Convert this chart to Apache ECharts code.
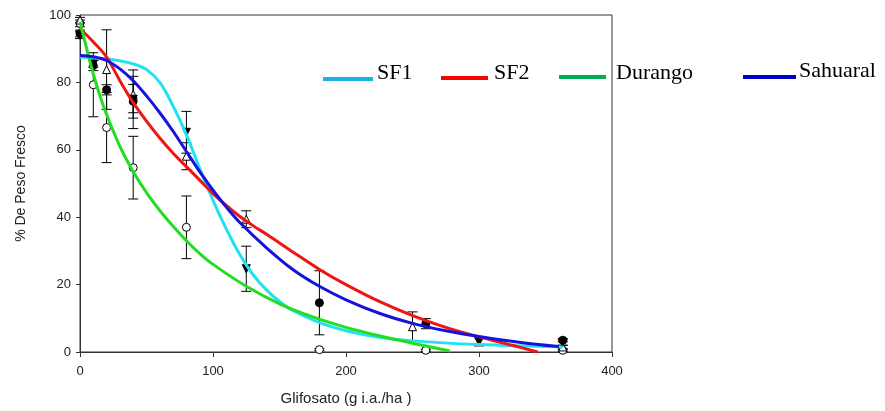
<!DOCTYPE html>
<html>
<head>
<meta charset="utf-8">
<title>Glifosato</title>
<script src="https://cdn.jsdelivr.net/npm/echarts@6/dist/echarts.min.js"></script>
<style>
  html, body { margin: 0; padding: 0; background: #fff; }
  #main { width: 885px; height: 411px; }
</style>
</head>
<body>
<div id="main"></div>
<script>
// curvas ajustadas [dosis, % peso fresco]
var sf1Curve = [[0,87.5],[10,87.3],[20,87],[30,86.4],[40,85.5],[50,83.8],[60,80],[70,73],[80,64.5],[90,54.5],[100,45],[110,36.5],[120,29],[130,23],[140,18.5],[150,15],[160,12.3],[180,8.7],[200,6.3],[225,4.4],[250,3.3],[300,2.2],[363,1.5]];
var sf2Curve = [[0,96],[10,92],[20,87.5],[30,80.5],[40,74],[50,68.5],[60,63.5],[70,59],[80,55],[90,51],[100,47],[110,43.5],[120,40.3],[130,37.5],[140,35],[160,29.7],[180,24.5],[200,20],[225,15],[250,10.8],[275,7.3],[300,4.5],[325,2],[344,0]];
var durangoCurve = [[0,98],[5,90],[10,82.5],[15,76],[20,70.5],[30,61],[40,53.5],[50,47.3],[60,42],[70,37.3],[80,33],[90,29.2],[100,26],[125,19.5],[150,14.3],[175,10.4],[200,7.3],[225,4.8],[250,2.6],[278,0.3]];
var sahuaralCurve = [[0,88],[10,87.6],[20,86.5],[30,84],[40,80.5],[50,76],[60,71],[70,65.5],[80,59.5],[90,53.5],[100,48],[110,43],[120,38.5],[140,31],[160,24.5],[180,19.5],[200,15.5],[225,11.5],[250,8.5],[275,6.3],[300,4.6],[330,2.9],[360,1.6]];

// observaciones [dosis, media, error]
var obsTriOpen = [[0,98.5,0.8],[20,83.8,11.8],[40,76.4,5.4],[80,58.1,4],[125,39.4,2.5],[250,7.5,4.4],[363,1.5,0.5]];
var obsTriDown = [[0,94,1],[10,85.5,1],[40,75,8.7],[80,65.2,6.2],[125,24.7,6.7],[300,3,1.2],[363,2.8,0.8]];
var obsDot = [[0,94.5,1],[10,85,1.5],[20,77.8,1.5],[40,74.4,5],[180,14.6,9.5],[260,8.4,1.5],[363,3.5,0.5]];
var obsCircle = [[0,97.5,1],[10,79.3,9.5],[20,66.6,10.4],[40,54.7,9.3],[80,37,9.3],[180,0.7,0.3],[260,0.5,0.3],[363,0.5,0.3]];

var legendNames = ['SF1', 'SF2', 'Durango', 'Sahuaral'];

var myChart = echarts.init(document.getElementById('main'));

// barras de error
function errorBars(params, api) {
  var x = api.value(0), y = api.value(1), e = api.value(2);
  var top = api.coord([x, y + e]);
  var bot = api.coord([x, y - e]);
  var w = 5;
  var st = { stroke: '#000', lineWidth: 1 };
  return {
    type: 'group',
    children: [
      { type: 'line', shape: { x1: top[0], y1: top[1], x2: bot[0], y2: bot[1] }, style: st },
      { type: 'line', shape: { x1: top[0] - w, y1: top[1], x2: top[0] + w, y2: top[1] }, style: st },
      { type: 'line', shape: { x1: bot[0] - w, y1: bot[1], x2: bot[0] + w, y2: bot[1] }, style: st }
    ]
  };
}

function errSeries(data) {
  return { type: 'custom', renderItem: errorBars, data: data, z: 2, silent: true };
}
function markSeries(data, symbol, fill, rotate) {
  return {
    type: 'scatter', data: data.map(function (d) { return [d[0], d[1]]; }),
    symbol: symbol, symbolSize: 8, symbolRotate: rotate || 0, z: 3,
    itemStyle: { color: fill, borderColor: '#000', borderWidth: 1, opacity: 1 }
  };
}
function curve(name, data, color) {
  return {
    name: name, type: 'line', data: data, smooth: 0.35, showSymbol: false, z: 4,
    lineStyle: { color: color, width: 3 }, itemStyle: { color: color }
  };
}

// leyenda dibujada a mano
var legendItems = [
  { x1: 323, x2: 373, y: 79, tx: 377, ty: 73, color: '#1ab0ea' },
  { x1: 441, x2: 488, y: 78, tx: 494, ty: 73, color: '#ff0000' },
  { x1: 559, x2: 606, y: 77, tx: 616, ty: 73, color: '#00b050' },
  { x1: 743, x2: 796, y: 77, tx: 799, ty: 71, color: '#0000c8' }
];
var graphics = [];
legendItems.forEach(function (it, i) {
  graphics.push({ type: 'line', shape: { x1: it.x1, y1: it.y, x2: it.x2, y2: it.y }, style: { stroke: it.color, lineWidth: 4 }, z: 10 });
  graphics.push({ type: 'text', x: it.tx, y: it.ty, style: { text: legendNames[i], font: '22px "Liberation Serif"', fill: '#000', verticalAlign: 'middle' }, z: 10 });
});

myChart.setOption({
  animation: false,
  backgroundColor: '#fff',
  grid: { left: 80, right: 273, top: 15, bottom: 57, show: true, borderColor: '#333', borderWidth: 1 },
  xAxis: {
    type: 'value', min: 0, max: 400, interval: 100,
    name: 'Glifosato (g i.a./ha )', nameLocation: 'middle', nameGap: 39,
    nameTextStyle: { fontFamily: 'Liberation Sans', fontSize: 15, color: '#222' },
    axisLine: { lineStyle: { color: '#333' } },
    axisTick: { show: true, length: 5, lineStyle: { color: '#333' } },
    axisLabel: { fontFamily: 'Liberation Sans', fontSize: 13, color: '#222', margin: 13 },
    splitLine: { show: false }
  },
  yAxis: {
    type: 'value', min: 0, max: 100, interval: 20,
    name: '% De Peso Fresco', nameLocation: 'middle', nameGap: 52,
    nameTextStyle: { fontFamily: 'Liberation Sans', fontSize: 14, color: '#222' },
    axisLine: { show: true, lineStyle: { color: '#333' } },
    axisTick: { show: true, length: 4, lineStyle: { color: '#333' } },
    axisLabel: { fontFamily: 'Liberation Sans', fontSize: 13, color: '#222', margin: 9 },
    splitLine: { show: false }
  },
  graphic: graphics,
  series: [
    errSeries(obsTriOpen), errSeries(obsTriDown), errSeries(obsDot), errSeries(obsCircle),
    markSeries(obsCircle, 'circle', '#fff'),
    markSeries(obsTriOpen, 'triangle', '#fff'),
    markSeries(obsDot, 'circle', '#000'),
    markSeries(obsTriDown, 'triangle', '#000', 180),
    curve('SF1', sf1Curve, '#22e2f2'),
    curve('SF2', sf2Curve, '#f01414'),
    curve('Durango', durangoCurve, '#22dd22'),
    curve('Sahuaral', sahuaralCurve, '#1414dc')
  ]
});
</script>
</body>
</html>
